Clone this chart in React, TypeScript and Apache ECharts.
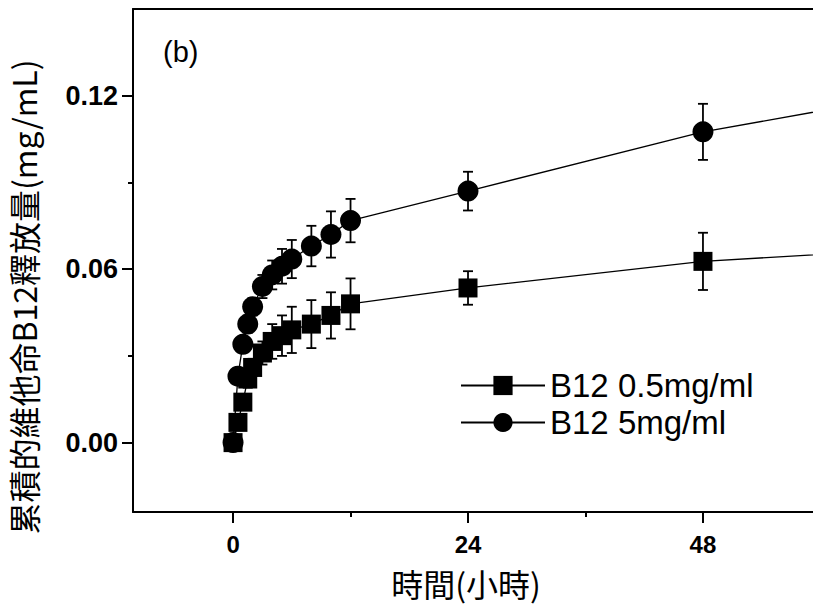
import React, { useEffect, useRef } from "react";
import * as echarts from "echarts";

// Time points (hours)
const hours = [0, 0.5, 1, 1.5, 2, 3, 4, 5, 6, 8, 10, 12, 24, 48, 72];
// B12 0.5 mg/ml cumulative release (mg/mL) and error
const lowDose = [0, 0.007, 0.014, 0.022, 0.026, 0.031, 0.035, 0.037, 0.039, 0.041, 0.044, 0.048, 0.0535, 0.0627, 0.0675];
const lowErr = [0.001, 0.0015, 0.002, 0.003, 0.003, 0.004, 0.006, 0.007, 0.008, 0.0083, 0.008, 0.0088, 0.0058, 0.0099, 0];
// B12 5 mg/ml cumulative release (mg/mL) and error
const highDose = [0, 0.023, 0.034, 0.041, 0.047, 0.054, 0.058, 0.061, 0.0635, 0.068, 0.072, 0.0768, 0.087, 0.1075, 0.122];
const highErr = [0.001, 0.002, 0.002, 0.003, 0.003, 0.004, 0.005, 0.006, 0.0066, 0.007, 0.008, 0.0075, 0.0067, 0.0097, 0];

const seriesNames = ["B12 0.5mg/ml", "B12 5mg/ml"];
const xMajorTicks = [0, 24, 48];
const xMinorTicks = [12, 36];
const yMajorTicks = [0, 0.06, 0.12];
const yMinorTicks = [0.03, 0.09];
const panelLabel = "(b)";
const xTitle = "時間(小時)";
const yTitle = "累積的維他命B12釋放量(mg/mL)";

const X_MIN = -10.22;
const X_MAX = 59.24;
const Y_MIN = -0.024;
const Y_MAX = 0.15;

const LATIN = "'Liberation Sans', Arial, sans-serif";
const CJK = "'Noto Sans CJK TC', 'Noto Sans CJK SC', sans-serif";

function errorData(values: number[], errs: number[]) {
  const out: number[][] = [];
  hours.forEach((t, i) => {
    if (errs[i] > 0 && t <= X_MAX) out.push([t, values[i] - errs[i], values[i] + errs[i]]);
  });
  return out;
}

const errorRender = (params: any, api: any) => {
  const x = api.value(0);
  const lo = api.coord([x, api.value(1)]);
  const hi = api.coord([x, api.value(2)]);
  const w = 5;
  const style = { stroke: "#000", lineWidth: 1.8 };
  return {
    type: "group",
    children: [
      { type: "line", shape: { x1: lo[0], y1: lo[1], x2: hi[0], y2: hi[1] }, style },
      { type: "line", shape: { x1: lo[0] - w, y1: lo[1], x2: lo[0] + w, y2: lo[1] }, style },
      { type: "line", shape: { x1: hi[0] - w, y1: hi[1], x2: hi[0] + w, y2: hi[1] }, style },
    ],
  };
};

export default function App() {
  const ref = useRef<HTMLDivElement>(null);
  useEffect(() => {
    if (!ref.current) return;
    const chart = echarts.init(ref.current, null, { renderer: "svg" });
    const axisLineStyle = { color: "#000", width: 2 };
    const option: any = {
      animation: false,
      backgroundColor: "#fff",
      grid: { left: 133, top: 9, right: 0, bottom: 101, containLabel: false },
      xAxis: [
        {
          type: "value",
          position: "bottom",
          min: X_MIN,
          max: X_MAX,
          axisLine: { show: true, onZero: false, lineStyle: axisLineStyle },
          axisTick: { show: true, inside: false, length: 11, customValues: xMajorTicks, lineStyle: { color: "#000", width: 2 } },
          axisLabel: { show: true, customValues: xMajorTicks, margin: 20, fontSize: 24, fontWeight: "bold", color: "#000", fontFamily: LATIN },
          splitLine: { show: false },
          name: xTitle,
          nameLocation: "middle",
          nameGap: 55,
          nameTextStyle: { fontSize: 32, color: "#000", fontFamily: CJK, padding: [0, 14, 0, 0] },
        },
        {
          type: "value",
          position: "bottom",
          min: X_MIN,
          max: X_MAX,
          axisLine: { show: false, onZero: false },
          axisTick: { show: true, inside: false, length: 5, customValues: xMinorTicks, lineStyle: { color: "#000", width: 2 } },
          axisLabel: { show: false },
          splitLine: { show: false },
        },
        {
          type: "value",
          position: "top",
          min: X_MIN,
          max: X_MAX,
          axisLine: { show: true, onZero: false, lineStyle: axisLineStyle },
          axisTick: { show: false },
          axisLabel: { show: false },
          splitLine: { show: false },
        },
      ],
      yAxis: [
        {
          type: "value",
          position: "left",
          min: Y_MIN,
          max: Y_MAX,
          axisLine: { show: true, onZero: false, lineStyle: axisLineStyle },
          axisTick: { show: true, inside: false, length: 11, customValues: yMajorTicks, lineStyle: { color: "#000", width: 2 } },
          axisLabel: {
            show: true,
            customValues: yMajorTicks,
            margin: 15,
            fontSize: 27,
            fontWeight: "bold",
            color: "#000",
            fontFamily: LATIN,
            formatter: (v: number) => v.toFixed(2),
          },
          splitLine: { show: false },
        },
        {
          type: "value",
          position: "left",
          min: Y_MIN,
          max: Y_MAX,
          axisLine: { show: false, onZero: false },
          axisTick: { show: true, inside: false, length: 5, customValues: yMinorTicks, lineStyle: { color: "#000", width: 2 } },
          axisLabel: { show: false },
          splitLine: { show: false },
        },
      ],
      legend: {
        data: seriesNames,
        orient: "vertical",
        left: 455,
        top: 364,
        itemWidth: 84,
        itemHeight: 24,
        itemGap: 4,
        textStyle: { fontSize: 33, color: "#000", fontFamily: LATIN, lineHeight: 33 },
      },
      graphic: [
        {
          type: "text",
          left: 163,
          top: 37,
          style: { text: panelLabel, fontSize: 29, fill: "#000", fontFamily: LATIN },
        },
        {
          type: "text",
          x: 23,
          y: 297,
          rotation: Math.PI / 2,
          style: {
            text: yTitle,
            fontSize: 32,
            fill: "#000",
            fontFamily: CJK,
            textAlign: "center",
            textVerticalAlign: "middle",
          },
        },
      ],
      series: [
        {
          type: "custom",
          name: "err-low",
          xAxisIndex: 0,
          yAxisIndex: 0,
          renderItem: errorRender,
          encode: { x: 0, y: [1, 2] },
          data: errorData(lowDose, lowErr),
          z: 1,
          silent: true,
        },
        {
          type: "custom",
          name: "err-high",
          xAxisIndex: 0,
          yAxisIndex: 0,
          renderItem: errorRender,
          encode: { x: 0, y: [1, 2] },
          data: errorData(highDose, highErr),
          z: 1,
          silent: true,
        },
        {
          type: "line",
          name: seriesNames[0],
          xAxisIndex: 0,
          yAxisIndex: 0,
          data: hours.map((t, i) => [t, lowDose[i]]),
          symbol: "rect",
          symbolSize: 19,
          showAllSymbol: true,
          itemStyle: { color: "#000" },
          lineStyle: { color: "#000", width: 1.3 },
          clip: true,
          z: 3,
        },
        {
          type: "line",
          name: seriesNames[1],
          xAxisIndex: 0,
          yAxisIndex: 0,
          data: hours.map((t, i) => [t, highDose[i]]),
          symbol: "circle",
          symbolSize: 21,
          showAllSymbol: true,
          itemStyle: { color: "#000" },
          lineStyle: { color: "#000", width: 1.3 },
          clip: true,
          z: 3,
        },
      ],
    };
    chart.setOption(option);
    return () => chart.dispose();
  }, []);
  return <div ref={ref} style={{ position: "absolute", left: 0, top: 0, width: 813, height: 613 }} />;
}
